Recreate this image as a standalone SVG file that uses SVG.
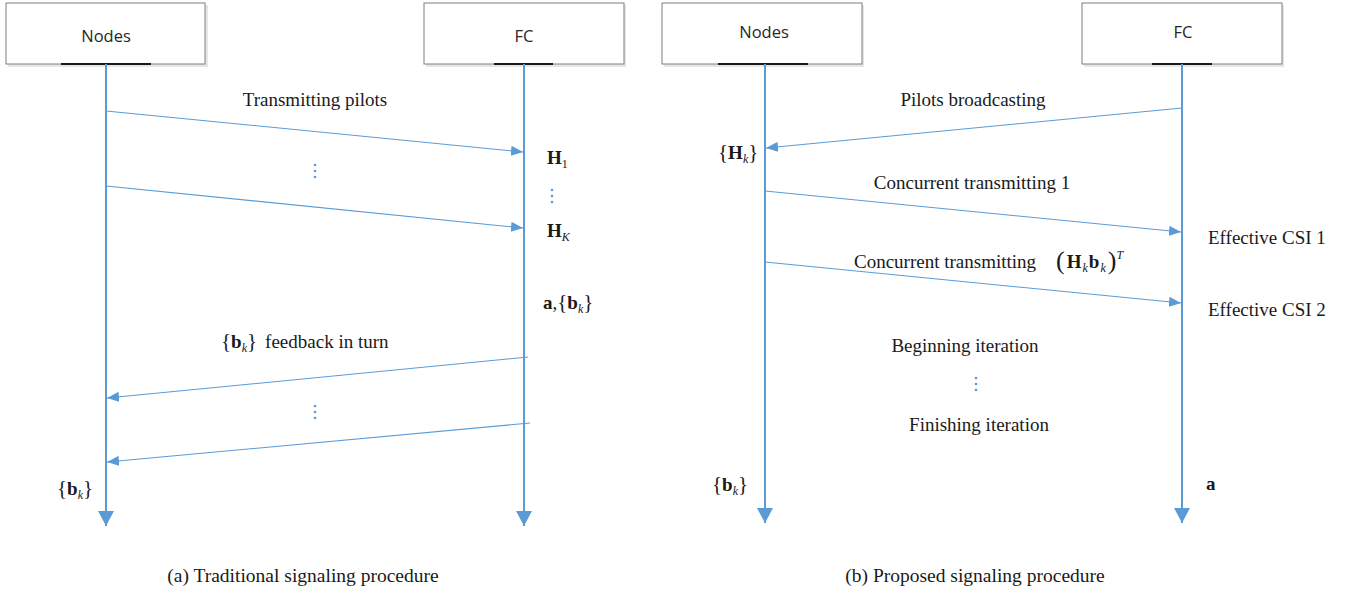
<svg xmlns="http://www.w3.org/2000/svg" width="1346" height="593" viewBox="0 0 1346 593">
<style>
.box{fill:#fff;stroke:#7f7f7f;stroke-width:1}
.shadow{fill:#e6e6e6}
.bar{stroke:#1a1a1a;stroke-width:2}
.hdr{font-family:"Open Sans","Liberation Sans",sans-serif;font-size:16.5px;fill:#262626;text-anchor:middle}
.life{stroke:#5b9bd5;stroke-width:2;fill:none}
.msg{stroke:#5b9bd5;stroke-width:1.1;fill:none}
.t{font-family:"Liberation Serif","Times New Roman",serif;font-size:19px;fill:#1a1a1a}
.m{font-family:"Liberation Serif","Times New Roman",serif;font-size:19px;fill:#1a1a1a}
.b{font-weight:bold}
.i{font-style:italic;font-size:12px}
.u{font-size:12px}
.br{font-size:21px;font-weight:normal}
.pa{font-size:26px;font-weight:normal}
.cap{font-family:"Liberation Serif","Times New Roman",serif;font-size:19.5px;fill:#1a1a1a;text-anchor:middle}
.dot{fill:#5b9bd5}
</style>
<defs>
<marker id="ah" viewBox="0 0 12 10" refX="12" refY="5" markerWidth="12" markerHeight="10" markerUnits="userSpaceOnUse" orient="auto">
<path d="M0,0 L12,5 L0,10 Z" fill="#5b9bd5"/>
</marker>
<marker id="lh" viewBox="0 0 15 16" refX="15" refY="8" markerWidth="15" markerHeight="16" markerUnits="userSpaceOnUse" orient="auto">
<path d="M0,0 L15,8 L0,16 Z" fill="#5b9bd5"/>
</marker>
<g id="vdots">
<circle cx="0" cy="-6" r="1.3"/><circle cx="0" cy="0" r="1.3"/><circle cx="0" cy="6" r="1.3"/>
</g>
</defs>

<g id="node-nodes-a">
<rect class="shadow" x="8" y="5" width="200" height="62"/>
<rect class="box" x="6" y="3" width="199" height="61"/>
<line class="bar" x1="61" y1="64" x2="151" y2="64"/>
<text class="hdr" x="106" y="42">Nodes</text>
</g>
<g id="node-fc-a">
<rect class="shadow" x="426" y="5" width="200" height="62"/>
<rect class="box" x="424" y="3" width="200" height="61"/>
<line class="bar" x1="494" y1="64" x2="553" y2="64"/>
<text class="hdr" x="524" y="42">FC</text>
</g>
<g id="node-nodes-b">
<rect class="shadow" x="664" y="5" width="200" height="62"/>
<rect class="box" x="662" y="3" width="200" height="61"/>
<line class="bar" x1="718" y1="64" x2="808" y2="64"/>
<text class="hdr" x="764" y="38">Nodes</text>
</g>
<g id="node-fc-b">
<rect class="shadow" x="1084" y="5" width="200" height="62"/>
<rect class="box" x="1082" y="3" width="200" height="61"/>
<line class="bar" x1="1152" y1="64" x2="1212" y2="64"/>
<text class="hdr" x="1183" y="38">FC</text>
</g>

<g id="connectors">
<line class="life" x1="106" y1="64" x2="106" y2="526" marker-end="url(#lh)"/>
<line class="life" x1="524" y1="64" x2="524" y2="526" marker-end="url(#lh)"/>
<line class="life" x1="765" y1="64" x2="765" y2="523" marker-end="url(#lh)"/>
<line class="life" x1="1182" y1="64" x2="1182" y2="523" marker-end="url(#lh)"/>
<line class="msg" x1="106" y1="111" x2="523" y2="152" marker-end="url(#ah)"/>
<line class="msg" x1="106" y1="186" x2="523" y2="228" marker-end="url(#ah)"/>
<line class="msg" x1="528" y1="357" x2="107" y2="398" marker-end="url(#ah)"/>
<line class="msg" x1="530" y1="423" x2="107" y2="462" marker-end="url(#ah)"/>
<line class="msg" x1="1182" y1="108" x2="766" y2="148" marker-end="url(#ah)"/>
<line class="msg" x1="765" y1="191" x2="1181" y2="232" marker-end="url(#ah)"/>
<line class="msg" x1="765" y1="262" x2="1181" y2="303" marker-end="url(#ah)"/>
</g>

<g class="dot">
<use href="#vdots" x="315" y="171"/>
<use href="#vdots" x="552" y="196"/>
<use href="#vdots" x="315" y="412"/>
<use href="#vdots" x="976" y="384"/>
</g>

<g id="labels-a">
<text class="t" x="315" y="106" text-anchor="middle">Transmitting pilots</text>
<text class="m" x="547" y="164"><tspan class="b">H</tspan><tspan class="u" dy="4">1</tspan></text>
<text class="m" x="547" y="237"><tspan class="b">H</tspan><tspan class="i" dy="4">K</tspan></text>
<text class="m" x="543" y="309"><tspan class="b">a</tspan>,<tspan class="br">{</tspan><tspan class="b">b</tspan><tspan class="i" dy="4">k</tspan><tspan class="br" dy="-4">}</tspan></text>
<text class="m" x="221" y="348"><tspan class="br">{</tspan><tspan class="b">b</tspan><tspan class="i" dy="4">k</tspan><tspan class="br" dy="-4">}</tspan><tspan dx="8">feedback in turn</tspan></text>
<text class="m" x="57" y="495"><tspan class="br">{</tspan><tspan class="b">b</tspan><tspan class="i" dy="4">k</tspan><tspan class="br" dy="-4">}</tspan></text>
</g>

<g id="labels-b">
<text class="t" x="973" y="106" text-anchor="middle">Pilots broadcasting</text>
<text class="m" x="718" y="159"><tspan class="br">{</tspan><tspan class="b">H</tspan><tspan class="i" dy="4">k</tspan><tspan class="br" dy="-4">}</tspan></text>
<text class="t" x="972" y="189" text-anchor="middle">Concurrent transmitting 1</text>
<text class="t" x="1208" y="244">Effective CSI 1</text>
<text class="m" x="854" y="268">Concurrent transmitting<tspan class="pa" dx="20" dy="1">(</tspan><tspan class="b" dx="2" dy="-1">H</tspan><tspan class="i" dx="1" dy="4">k</tspan><tspan class="b" dx="1" dy="-4">b</tspan><tspan class="i" dx="1" dy="4">k</tspan><tspan class="pa" dx="2" dy="-3">)</tspan><tspan class="i" dy="-10">T</tspan></text>
<text class="t" x="1208" y="316">Effective CSI 2</text>
<text class="t" x="965" y="352" text-anchor="middle">Beginning iteration</text>
<text class="t" x="979" y="431" text-anchor="middle">Finishing iteration</text>
<text class="m" x="712" y="491"><tspan class="br">{</tspan><tspan class="b">b</tspan><tspan class="i" dy="4">k</tspan><tspan class="br" dy="-4">}</tspan></text>
<text class="m b" x="1206" y="490">a</text>
</g>

<text class="cap" x="303" y="582">(a) Traditional signaling procedure</text>
<text class="cap" x="975" y="582">(b) Proposed signaling procedure</text>
</svg>
